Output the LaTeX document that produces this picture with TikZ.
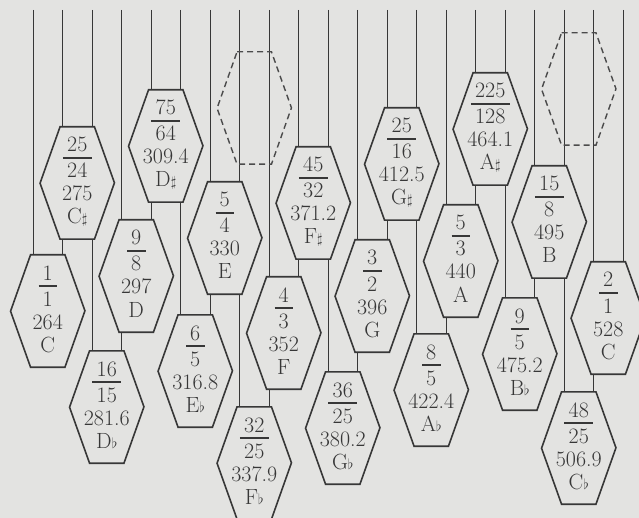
\documentclass[tikz,border=0pt]{standalone}
\usepackage{amssymb}
\usetikzlibrary{calc}

\definecolor{paper}{RGB}{227,227,225}
\definecolor{ink}{RGB}{55,55,55}

\tikzset{
  string/.style={ink, line width=1.5pt},
  tonebox/.style={rectangle, inner sep=0pt, minimum width=34pt, minimum height=112pt},
  hexside/.style={ink, line width=1.6pt, fill=paper},
  gapside/.style={ink!90, line width=1.4pt, dash pattern=on 6pt off 4pt},
  txt/.style={anchor=base, inner sep=0pt, text=ink, font=\fontsize{22}{26}\selectfont},
  numtxt/.style={txt, inner xsep=4pt},
}

\newcommand{\sharpmark}{{\fontsize{15}{15}\selectfont$\sharp$}}
\newcommand{\flatmark}{{\fontsize{15}{15}\selectfont$\flat$}}

% hexagon round the box #1, drawn with style #2
\newcommand{\hexat}[2]{%
  \draw[#2] (#1.north west) -- (#1.north east) -- ++(20,56) -- (#1.south east)
    -- (#1.south west) -- ++(-20,-56) -- cycle;}

% name, string, top, numerator, denominator, frequency, note
\newcommand{\tone}[7]{%
  \node[tonebox] (#1) at ({47.75+29.5*#2},{#3+56}) {};
  \hexat{#1}{hexside}
  \node[numtxt] (#1-n) at ($(#1)+(0,-31)$) {#4};
  \draw[ink, line width=1.1pt] ([yshift=-6pt]#1-n.base west) -- ([yshift=-6pt]#1-n.base east);
  \node[txt] (#1-d) at ($(#1)+(0,-5)$) {#5};
  \node[txt] (#1-f) at ($(#1)+(0,18)$) {#6};
  \node[txt] (#1-l) at ($(#1)+(0,41)$) {#7};
}

\begin{document}
\begin{tikzpicture}[x=1pt, y=-1pt]

  \useasboundingbox (0,0) rectangle (639,518);
  \clip (0,0) rectangle (639,518);
  \fill[paper] (0,0) rectangle (639,518);

  % where the strings hang from
  \foreach \i in {0,...,20}
    \coordinate (t\i) at ({int(33+29.5*\i)+0.5},10);

  % the tones
  \tone{c1}{0}{255}{1}{1}{264}{C}
  \tone{cs}{1}{127}{25}{24}{275}{C\sharpmark}
  \tone{db}{2}{351}{16}{15}{281.6}{D\flatmark}
  \tone{d}{3}{220}{9}{8}{297}{D}
  \tone{ds}{4}{90}{75}{64}{309.4}{D\sharpmark}
  \tone{eb}{5}{315}{6}{5}{316.8}{E\flatmark}
  \tone{e}{6}{182}{5}{4}{330}{E}
  \tone{fb}{7}{407}{32}{25}{337.9}{F\flatmark}
  \tone{f}{8}{277}{4}{3}{352}{F}
  \tone{fs}{9}{147}{45}{32}{371.2}{F\sharpmark}
  \tone{gb}{10}{372}{36}{25}{380.2}{G\flatmark}
  \tone{g}{11}{240}{3}{2}{396}{G}
  \tone{gs}{12}{108}{25}{16}{412.5}{G\sharpmark}
  \tone{ab}{13}{334}{8}{5}{422.4}{A\flatmark}
  \tone{a}{14}{205}{5}{3}{440}{A}
  \tone{as}{15}{73}{225}{128}{464.1}{A\sharpmark}
  \tone{bb}{16}{298}{9}{5}{475.2}{B\flatmark}
  \tone{b}{17}{166}{15}{8}{495}{B}
  \tone{cb}{18}{392}{48}{25}{506.9}{C\flatmark}
  \tone{c2}{19}{262}{2}{1}{528}{C}

  % empty places
  \node[tonebox] (gap1) at ({47.75+29.5*7},{52+56}) {};
  \node[tonebox] (gap2) at ({47.75+29.5*18},{33+56}) {};

  % strings
  \foreach \i/\b in {0/c1, 1/cs, 2/cs, 3/d, 4/ds, 5/ds, 6/e, 7/e, 8/f, 9/fs, 10/fs,
      11/g, 12/gs, 13/gs, 14/a, 15/as, 16/as, 17/b, 18/b, 19/c2, 20/c2}
    \draw[string] (t\i) -- (t\i |- \b.north);
  \foreach \i/\a/\b in {1/cs/c1, 2/cs/db, 3/d/db, 4/ds/d, 5/ds/eb, 6/e/eb, 7/e/fb,
      8/f/fb, 9/fs/f, 10/fs/gb, 11/g/gb, 12/gs/g, 13/gs/ab, 14/a/ab, 15/as/a,
      16/as/bb, 17/b/bb, 18/b/cb, 19/c2/cb}
    \draw[string] (t\i |- \a.south) -- (t\i |- \b.north);

  \hexat{gap1}{gapside}
  \hexat{gap2}{gapside}

\end{tikzpicture}
\end{document}
